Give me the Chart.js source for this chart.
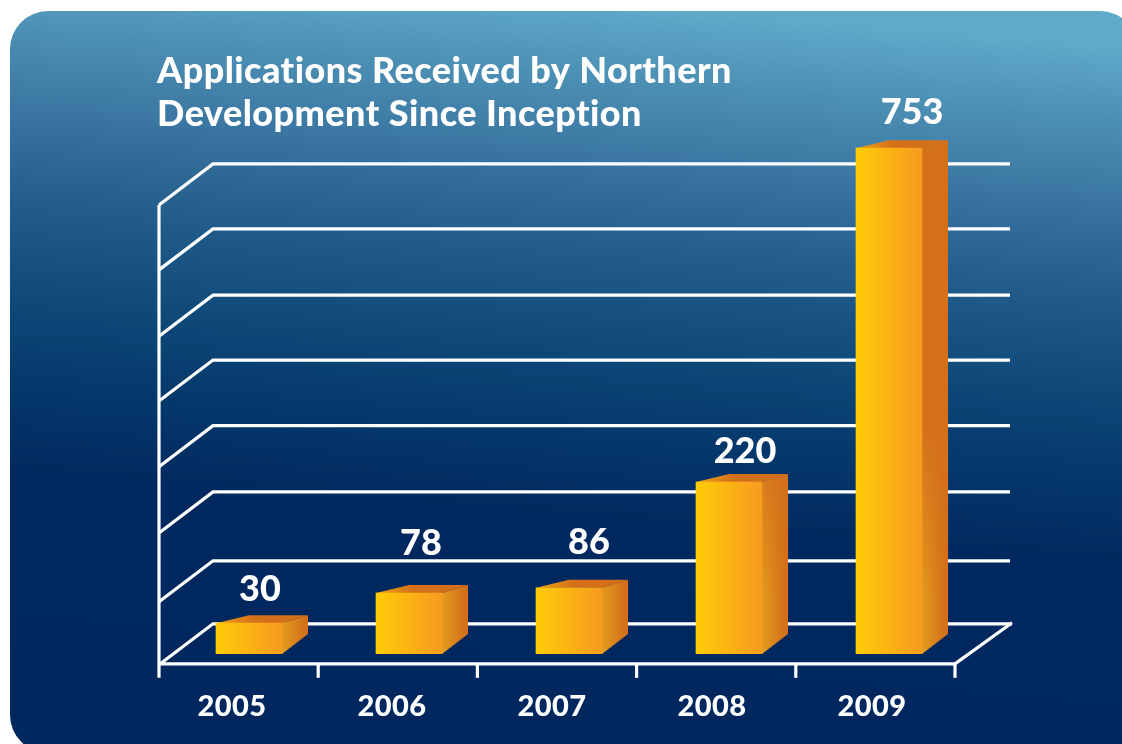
<!DOCTYPE html>
<html><head><meta charset="utf-8">
<style>html,body{margin:0;padding:0;background:#fff}canvas{display:block}</style>
<script src="https://cdn.jsdelivr.net/npm/chart.js@4/dist/chart.umd.js"></script>
</head><body><canvas id="c" width="1122" height="744"></canvas>
<script>
const years = ['2005','2006','2007','2008','2009'];
const applications = [30,78,86,220,753];
const titleLines = ['Applications Received by Northern','Development Since Inception'];
// the reference's bars are not drawn to a strictly proportional scale: value -> axis unit
const readValues = [0,30,78,86,220,753];
const drawnUnits = [0,47,93,101,262,771];
const gridUnits = [46,142,247,348,448,547,648,747];
const labelNudgeX = [11,12,20,16,23];
const labelNudgeY = [-34,-50,-45,-31,-36];

class ReadScale extends Chart.LinearScale {
  getPixelForValue(v){
    let u = v;
    for(let i=1;i<readValues.length;i++){
      if(v<=readValues[i]){
        u = drawnUnits[i-1]+(v-readValues[i-1])*(drawnUnits[i]-drawnUnits[i-1])/(readValues[i]-readValues[i-1]);
        break;
      }
    }
    return super.getPixelForValue(u);
  }
  pixelForUnit(u){ return super.getPixelForValue(u); }
}
ReadScale.id='readScale';
ReadScale.defaults=Chart.LinearScale.defaults;
Chart.register(ReadScale);

const FONT='Lato';
const backdrop={id:'backdrop',beforeDraw(ch){
  const c=ch.ctx;c.save();
  const g=c.createLinearGradient(670,11,610,744);
  [[0,'#5fa9c9'],[.1,'#4c8fb4'],[.22,'#38739f'],[.33,'#235d8b'],[.46,'#0f4a79'],[.57,'#053a6c'],[.70,'#02295f'],[1,'#01285e']].forEach(s=>g.addColorStop(s[0],s[1]));
  c.fillStyle=g;c.beginPath();c.roundRect(10,11,1128,742,38);c.fill();c.restore();
  c.letterSpacing='0.45px';
}};
const frame={id:'frame',beforeDatasetsDraw(ch){
  const c=ch.ctx,y=ch.scales.y,x=ch.scales.x;
  const step=(x.getPixelForValue(1)-x.getPixelForValue(0))*0.995;
  const L=x.getPixelForValue(0)-90, R=L+step*5;
  const dx=54,dy=41;
  c.save();c.strokeStyle='#fff';c.lineWidth=3.2;c.lineJoin='miter';
  gridUnits.forEach((u,i)=>{
    const py=y.pixelForUnit(u);
    c.beginPath();c.moveTo(L,py+dy);c.lineTo(L+dx,py);c.lineTo(i===0?R+57:R+55,py);c.stroke();
  });
  const top=y.pixelForUnit(gridUnits[gridUnits.length-1])+dy;
  const fy=y.pixelForUnit(gridUnits[0])+dy-1;
  c.beginPath();c.moveTo(L,top);c.lineTo(L,fy+14);c.stroke();
  c.beginPath();c.moveTo(L,fy);c.lineTo(R,fy);c.lineTo(R+57,fy-41);c.stroke();
  for(let i=1;i<=5;i++){const tx=L+step*i;c.beginPath();c.moveTo(tx,fy);c.lineTo(tx,fy+14);c.stroke();}
  c.restore();
  // 3-D faces behind each front face
  ch.getDatasetMeta(0).data.forEach(b=>{
    const l=b.x-b.width/2,r=b.x+b.width/2,t=b.y,bt=b.base;
    c.save();
    c.beginPath();c.moveTo(r,t);c.lineTo(r+26,t-8);c.lineTo(r+26,bt-20);c.lineTo(r,bt);c.closePath();c.clip();
    let g=c.createLinearGradient(r,0,r+22,0);
    g.addColorStop(0,'#e39d1e');g.addColorStop(1,'#d4701a');
    c.fillStyle=g;c.fillRect(r-1,t-10,28,bt-t+12);
    g=c.createLinearGradient(0,bt-50,0,bt-230);
    g.addColorStop(0,'rgba(212,112,26,0)');g.addColorStop(1,'rgba(212,112,26,1)');
    c.fillStyle=g;c.fillRect(r-1,t-10,28,bt-t+12);
    c.restore();
    g=c.createLinearGradient(l,t,l+38,t-4);
    g.addColorStop(0,'#f0a314');g.addColorStop(1,'#d4701a');
    c.fillStyle=g;c.beginPath();c.moveTo(l,t);c.lineTo(l+33,t-8);c.lineTo(r+26,t-8);c.lineTo(r,t);c.closePath();c.fill();
  });
}};
const valueLabels={id:'valueLabels',afterDatasetsDraw(ch){
  const c=ch.ctx;c.save();c.fillStyle='#fff';c.textAlign='center';c.textBaseline='middle';
  c.font='900 36px '+FONT;c.letterSpacing='0px';
  ch.getDatasetMeta(0).data.forEach((b,i)=>{
    c.fillText(String(applications[i]),b.x+labelNudgeX[i],b.y+labelNudgeY[i]);
  });
  c.restore();
}};

new Chart(document.getElementById('c'),{
  type:'bar',
  data:{labels:years,datasets:[{data:applications,barThickness:66,borderWidth:0,
    backgroundColor(ctx){
      const ch=ctx.chart;
      if(!ch.chartArea||ctx.dataIndex===undefined) return '#fbb415';
      const cx=ch.scales.x.getPixelForValue(ctx.dataIndex);
      const g=ch.ctx.createLinearGradient(cx-33,0,cx+33,0);
      g.addColorStop(0,'#ffcb08');g.addColorStop(1,'#f79b20');
      return g;
    }}]},
  plugins:[backdrop,frame,valueLabels],
  options:{
    responsive:false,animation:false,
    layout:{padding:{left:157,right:153,top:0,bottom:0}},
    plugins:{
      legend:{display:false},tooltip:{enabled:false},
      title:{display:true,text:titleLines,align:'start',color:'#fff',fullSize:true,
        font:{family:FONT,weight:'900',size:36,lineHeight:43/36},padding:{top:50,bottom:0}}
    },
    scales:{
      x:{offset:true,grid:{display:false},border:{display:false},
        ticks:{color:'#fff',font:{family:FONT,weight:'900',size:29},padding:27,labelOffset:-17,maxRotation:0},
        afterFit(s){s.height=90;}},
      y:{type:'readScale',min:0,max:789.6,grid:{display:false},border:{display:false},
        ticks:{display:false},afterFit(s){s.width=12;}}
    }
  }
});
</script></body></html>
